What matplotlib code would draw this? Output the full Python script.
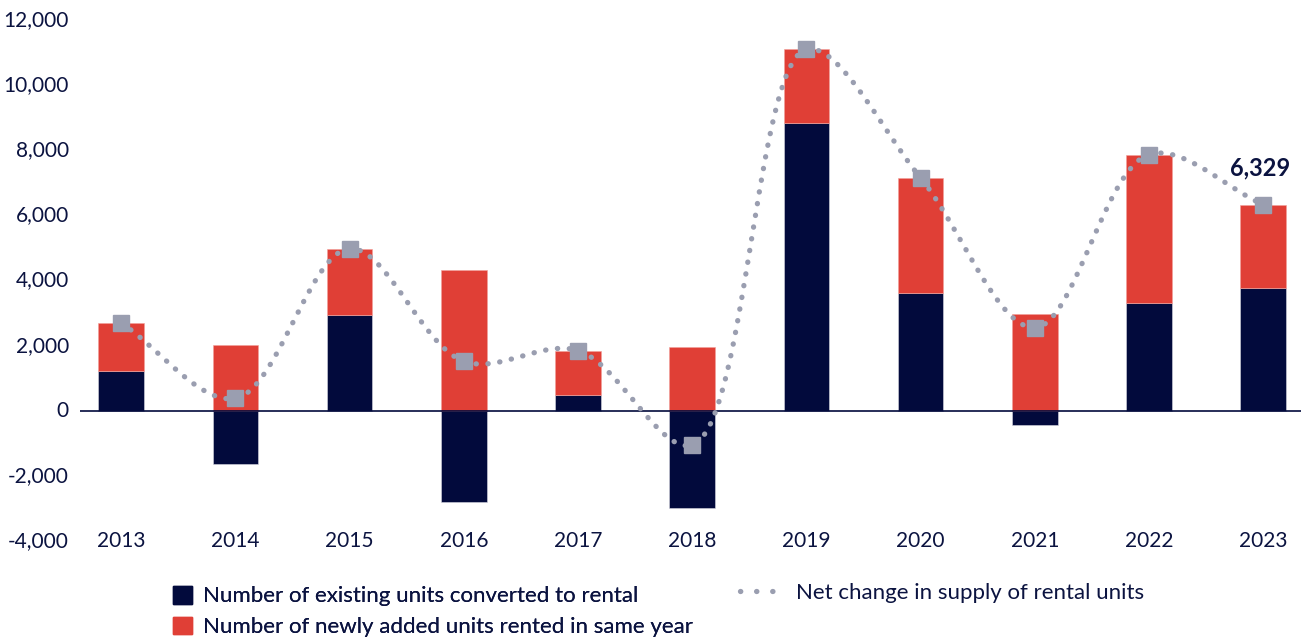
import numpy as np
import matplotlib.pyplot as plt
from matplotlib.patches import Patch
from matplotlib.lines import Line2D
from matplotlib.ticker import FuncFormatter

plt.rcParams['font.family'] = ['Lato', 'DejaVu Sans']

years = ['2013', '2014', '2015', '2016', '2017', '2018', '2019', '2020', '2021', '2022', '2023']
# existing units converted to rental (can be negative)
converted = [1230, -1650, 2950, -2800, 470, -3000, 8850, 3620, -430, 3300, 3771]
# newly added units rented in same year
new_added = [1470, 2030, 2030, 4320, 1380, 1950, 2250, 3530, 2980, 4570, 2558]
# net change in supply
net_change = [2700, 380, 4980, 1520, 1850, -1050, 11100, 7150, 2550, 7870, 6329]

navy = '#020a3c'
red = '#e03f36'
grey = '#9a9eb0'
text_col = '#0b1340'


def smooth_curve(x, y, sx, sy, n=40):
    # centripetal catmull-rom through the points, worked out in pixel space
    P = np.column_stack([np.asarray(x, float) * sx, np.asarray(y, float) * sy])
    P = np.vstack([2 * P[0] - P[1], P, 2 * P[-1] - P[-2]])
    out = []
    for i in range(1, len(P) - 2):
        p0, p1, p2, p3 = P[i - 1], P[i], P[i + 1], P[i + 2]
        t0 = 0.0
        t1 = t0 + np.linalg.norm(p1 - p0) ** 0.5
        t2 = t1 + np.linalg.norm(p2 - p1) ** 0.5
        t3 = t2 + np.linalg.norm(p3 - p2) ** 0.5
        t = np.linspace(t1, t2, n, endpoint=False)[:, None]
        a1 = (t1 - t) / (t1 - t0) * p0 + (t - t0) / (t1 - t0) * p1
        a2 = (t2 - t) / (t2 - t1) * p1 + (t - t1) / (t2 - t1) * p2
        a3 = (t3 - t) / (t3 - t2) * p2 + (t - t2) / (t3 - t2) * p3
        b1 = (t2 - t) / (t2 - t0) * a1 + (t - t0) / (t2 - t0) * a2
        b2 = (t3 - t) / (t3 - t1) * a2 + (t - t1) / (t3 - t1) * a3
        out.append((t2 - t) / (t2 - t1) * b1 + (t - t1) / (t2 - t1) * b2)
    out.append(P[-2][None, :])
    out = np.vstack(out)
    return out[:, 0] / sx, out[:, 1] / sy


fig = plt.figure(figsize=(13.01, 6.42), dpi=100)
ax = fig.add_axes([0.0615, 0.1573, 0.9385, 0.8115])

x = np.arange(len(years))
conv = np.array(converted)
base = np.clip(conv, 0, None)
ax.bar(x, conv, width=0.4, color=navy, edgecolor='#d8d8e0', linewidth=0.4, zorder=2)
ax.bar(x, new_added, width=0.4, bottom=base, color=red, edgecolor='#f2a09a', linewidth=0.4, zorder=2)

ax.axhline(0, color=navy, lw=1.2, zorder=3)

# roughly 114 px per year and 32.6 px per 1000 units
lx, ly = smooth_curve(x, net_change, 114.0, 0.0326)
dots = (0, (0.05, 2.2))
ax.plot(lx, ly, color=grey, lw=3.8, linestyle=dots, dash_capstyle='round', zorder=4)
ax.plot(x, net_change, linestyle='none', marker='s', markersize=12, color=grey, zorder=5)

ax.annotate('{:,}'.format(net_change[-1]), (x[-1], net_change[-1]), xytext=(-2, 18),
            textcoords='offset points', ha='center', va='bottom', fontsize=17,
            fontweight='bold', color=text_col)

ax.set_xlim(-0.36, 10.33)
ax.set_ylim(-4000, 12000)
ax.set_yticks(np.arange(-4000, 12001, 2000))
ax.yaxis.set_major_formatter(FuncFormatter(lambda v, p: '{:,.0f}'.format(v)))
ax.set_xticks(x)
ax.set_xticklabels(years)
ax.tick_params(axis='both', length=0, labelsize=15, colors=text_col)
ax.tick_params(axis='y', pad=8)
ax.tick_params(axis='x', pad=0)
for lab in ax.get_xticklabels():
    lab.set_va('center')
for lab in ax.get_yticklabels():
    lab.set_va('center')
for s in ax.spines.values():
    s.set_visible(False)

bar_handles = [Patch(color=navy), Patch(color=red)]
bar_labels = ['Number of existing units converted to rental',
              'Number of newly added units rented in same year']
leg1 = fig.legend(bar_handles, bar_labels, loc='center left', bbox_to_anchor=(173 / 1301, 1 - 611.5 / 642),
                  frameon=False, fontsize=16, labelcolor=text_col, handlelength=0.86, handleheight=0.86,
                  handletextpad=0.5, labelspacing=0.45, borderpad=0, borderaxespad=0)
line_handle = Line2D([0], [0], color=grey, lw=3.8, linestyle=(0, (0.05, 3.0)), dash_capstyle='round')
fig.legend([line_handle], ['Net change in supply of rental units'], loc='center left',
           bbox_to_anchor=(740 / 1301, 1 - 593 / 642), frameon=False, fontsize=16, labelcolor=text_col,
           handlelength=2.1, handletextpad=0.4, borderpad=0, borderaxespad=0)
fig.add_artist(leg1)

fig.savefig('out.png', dpi=100)
